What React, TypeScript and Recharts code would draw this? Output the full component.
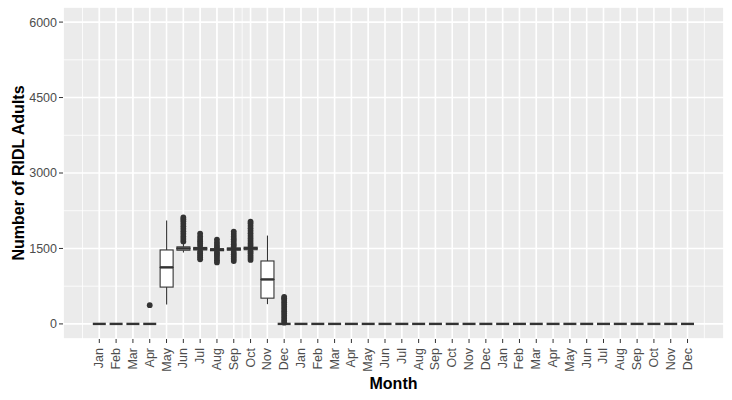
import { Bar, CartesianGrid, ComposedChart, Scatter, XAxis, YAxis } from "recharts";

const monthNames = ["Jan", "Feb", "Mar", "Apr", "May", "Jun", "Jul", "Aug", "Sep", "Oct", "Nov", "Dec"];
const monthLabels = [...monthNames, ...monthNames, ...monthNames];

// five-number summaries, one entry per month (3 years)
const lowWhisker = [
  0, 0, 0, 0, 385, 1420, 1450, 1440, 1450, 1460, 393, 0,
  0, 0, 0, 0, 0, 0, 0, 0, 0, 0, 0, 0,
  0, 0, 0, 0, 0, 0, 0, 0, 0, 0, 0, 0,
];
const q1 = [
  0, 0, 0, 0, 732, 1465, 1470, 1455, 1465, 1475, 512, 0,
  0, 0, 0, 0, 0, 0, 0, 0, 0, 0, 0, 0,
  0, 0, 0, 0, 0, 0, 0, 0, 0, 0, 0, 0,
];
const median = [
  0, 0, 0, 0, 1124, 1500, 1496, 1476, 1490, 1502, 884, 0,
  0, 0, 0, 0, 0, 0, 0, 0, 0, 0, 0, 0,
  0, 0, 0, 0, 0, 0, 0, 0, 0, 0, 0, 0,
];
const q3 = [
  0, 0, 0, 0, 1470, 1532, 1520, 1495, 1510, 1525, 1251, 0,
  0, 0, 0, 0, 0, 0, 0, 0, 0, 0, 0, 0,
  0, 0, 0, 0, 0, 0, 0, 0, 0, 0, 0, 0,
];
const highWhisker = [
  0, 0, 0, 0, 2055, 1590, 1540, 1510, 1525, 1540, 1756, 0,
  0, 0, 0, 0, 0, 0, 0, 0, 0, 0, 0, 0,
  0, 0, 0, 0, 0, 0, 0, 0, 0, 0, 0, 0,
];

// outliers: [month position, values]
const outliers: [number, number[]][] = [
  [4, [373]],
  [6, [1640, 1690, 1740, 1790, 1840, 1890, 1940, 1990, 2040, 2080, 2115]],
  [7, [1283, 1325, 1365, 1405, 1440, 1555, 1600, 1645, 1690, 1740, 1796]],
  [8, [1223, 1265, 1310, 1355, 1395, 1430, 1525, 1570, 1620, 1676]],
  [9, [1251, 1295, 1340, 1385, 1430, 1540, 1585, 1635, 1685, 1735, 1785, 1835]],
  [10, [1271, 1315, 1360, 1405, 1445, 1555, 1600, 1650, 1700, 1750, 1800, 1850, 1900, 1950, 2000, 2035]],
  [12, [25, 70, 115, 160, 205, 250, 295, 340, 385, 430, 475, 510, 539]],
];

const yTicks = [0, 1500, 3000, 4500, 6000];
const yMinorTicks = [750, 2250, 3750, 5250];
const monthTicks = monthLabels.map((_, i) => i + 1);
const xMinorTicks = Array.from({ length: 75 }, (_, i) => i / 2);

const X_DOMAIN: [number, number] = [-1.16, 38.17];
const Y_DOMAIN: [number, number] = [-300, 6300];
const INK = "#333333";

const boxRows = monthLabels.map((label, i) => ({
  x: i + 1,
  label,
  base: lowWhisker[i],
  lowerWhisker: q1[i] - lowWhisker[i],
  lowerBox: median[i] - q1[i],
  upperBox: q3[i] - median[i],
  upperWhisker: highWhisker[i] - q3[i],
}));
const medianPoints = median.map((y, i) => ({ x: i + 1, y }));
const outlierPoints = outliers.flatMap(([x, vals]) => vals.map((y) => ({ x, y })));

function norm(p: any) {
  const y0 = Math.min(p.y, p.y + p.height);
  return { x: p.x, y: y0, w: p.width, h: Math.abs(p.height) };
}

const Empty = () => <g />;

const Whisker = (p: any) => {
  const r = norm(p);
  const cx = r.x + r.w / 2;
  if (!r.h) return <g />;
  return <line x1={cx} x2={cx} y1={r.y} y2={r.y + r.h} stroke={INK} strokeWidth={1.1} />;
};

const BoxPart = (p: any) => {
  const r = norm(p);
  return <rect x={r.x} y={r.y} width={r.w} height={r.h} fill="#ffffff" stroke={INK} strokeWidth={1.1} />;
};

const MedianLine = (p: any) => (
  <line x1={p.cx - 6.5} x2={p.cx + 6.5} y1={p.cy} y2={p.cy} stroke={INK} strokeWidth={2.4} />
);

const OutlierDot = (p: any) => <circle cx={p.cx} cy={p.cy} r={2.9} fill={INK} />;

const MonthTick = ({ x, y, payload }: any) => (
  <text
    x={x}
    y={y + 3}
    transform={`rotate(-90 ${x} ${y + 3})`}
    textAnchor="end"
    dominantBaseline="central"
    fill="#4D4D4D"
    fontSize={12.5}
  >
    {monthLabels[payload.value - 1]}
  </text>
);

export default function App() {
  return (
    <div
      style={{
        position: "absolute",
        left: 0,
        top: 0,
        width: 732,
        height: 400,
        background: "#ffffff",
        fontFamily: '"Liberation Sans", Arial, sans-serif',
      }}
    >
      <ComposedChart
        width={732}
        height={400}
        data={boxRows}
        margin={{ top: 7, right: 8, bottom: 0, left: 0 }}
      >
        <XAxis
          xAxisId="main"
          type="number"
          dataKey="x"
          domain={X_DOMAIN}
          ticks={monthTicks}
          interval={0}
          allowDataOverflow
          height={61}
          tickSize={4}
          tickLine={{ stroke: INK, strokeWidth: 1 }}
          axisLine={false}
          tick={<MonthTick />}
        />
        <YAxis
          yAxisId="main"
          type="number"
          domain={Y_DOMAIN}
          ticks={yTicks}
          interval={0}
          allowDataOverflow
          width={63}
          tickSize={4}
          tickLine={{ stroke: INK, strokeWidth: 1 }}
          axisLine={false}
          tick={{ fill: "#4D4D4D", fontSize: 12.5 }}
        />
        <XAxis xAxisId="gridx" type="number" dataKey="x" domain={X_DOMAIN} ticks={xMinorTicks} allowDataOverflow height={0} hide />
        <YAxis yAxisId="gridy" type="number" domain={Y_DOMAIN} ticks={yMinorTicks} allowDataOverflow width={0} hide />
        <CartesianGrid xAxisId="gridx" yAxisId="gridy" fill="#EBEBEB" stroke="#ffffff" strokeWidth={0.8} />
        <CartesianGrid xAxisId="main" yAxisId="main" stroke="#ffffff" strokeWidth={1.6} />
        <Bar xAxisId="main" yAxisId="main" dataKey="base" stackId="box" barSize={13} shape={<Empty />} isAnimationActive={false} />
        <Bar xAxisId="main" yAxisId="main" dataKey="lowerWhisker" stackId="box" barSize={13} shape={<Whisker />} isAnimationActive={false} />
        <Bar xAxisId="main" yAxisId="main" dataKey="lowerBox" stackId="box" barSize={13} shape={<BoxPart />} isAnimationActive={false} />
        <Bar xAxisId="main" yAxisId="main" dataKey="upperBox" stackId="box" barSize={13} shape={<BoxPart />} isAnimationActive={false} />
        <Bar xAxisId="main" yAxisId="main" dataKey="upperWhisker" stackId="box" barSize={13} shape={<Whisker />} isAnimationActive={false} />
        <Scatter xAxisId="main" yAxisId="main" data={medianPoints} dataKey="y" shape={<MedianLine />} isAnimationActive={false} />
        <Scatter xAxisId="main" yAxisId="main" data={outlierPoints} dataKey="y" shape={<OutlierDot />} isAnimationActive={false} />
      </ComposedChart>
      <div
        style={{
          position: "absolute",
          left: 19.4,
          top: 173,
          transform: "translate(-50%, -50%) rotate(-90deg)",
          whiteSpace: "nowrap",
          fontWeight: "bold",
          fontSize: 16,
          color: "#000000",
        }}
      >
        Number of RIDL Adults
      </div>
      <div
        style={{
          position: "absolute",
          left: 393.5,
          top: 384.4,
          transform: "translate(-50%, -50%)",
          whiteSpace: "nowrap",
          fontWeight: "bold",
          fontSize: 16,
          color: "#000000",
        }}
      >
        Month
      </div>
    </div>
  );
}
